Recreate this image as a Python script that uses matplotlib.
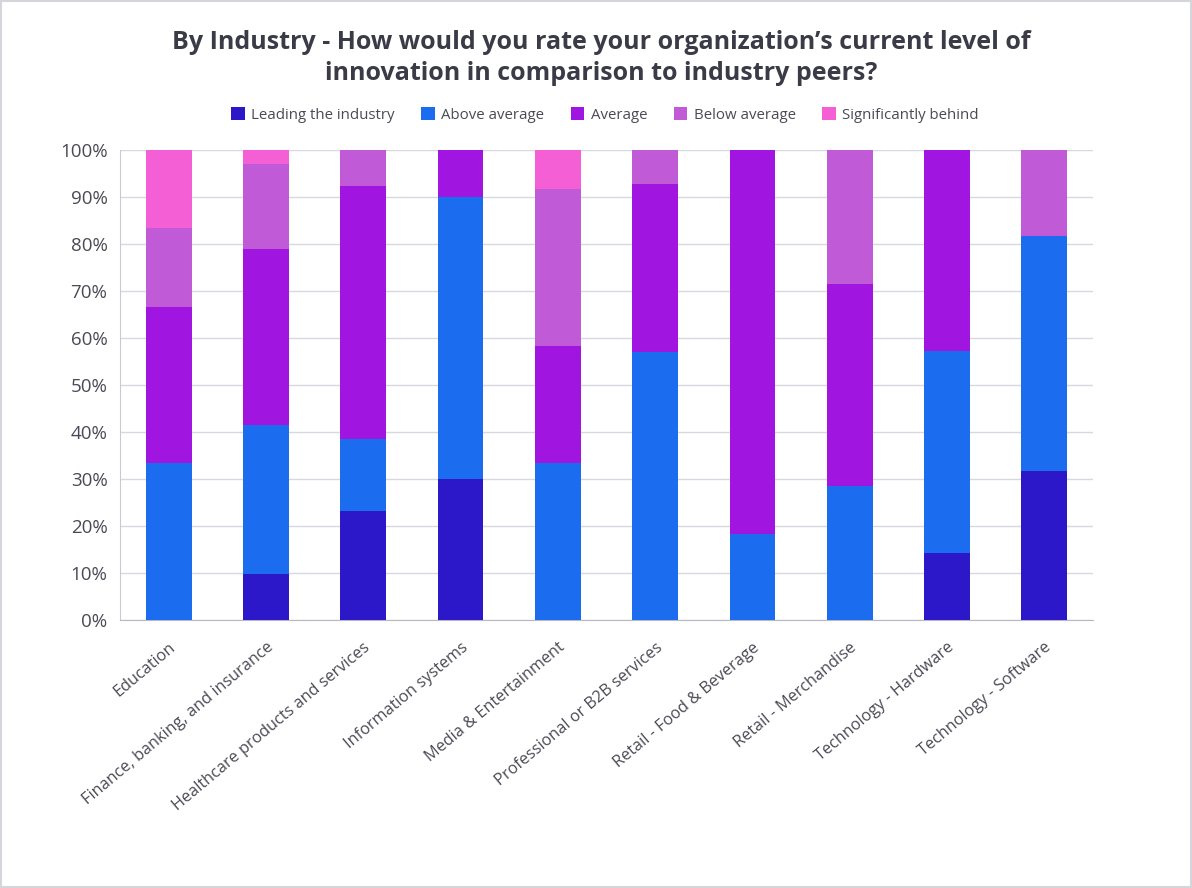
import numpy as np
import matplotlib.pyplot as plt
from matplotlib.patches import Rectangle
from matplotlib.ticker import FuncFormatter

plt.rcParams['font.family'] = ['Open Sans', 'DejaVu Sans']

industries = [
    "Education", "Finance, banking, and insurance", "Healthcare products and services",
    "Information systems", "Media & Entertainment", "Professional or B2B services",
    "Retail - Food & Beverage", "Retail - Merchandise", "Technology - Hardware",
    "Technology - Software",
]
series = ["Leading the industry", "Above average", "Average", "Below average", "Significantly behind"]

leading = [0, 9.7, 23.1, 30, 0, 0, 0, 0, 14.3, 31.8]
above = [33.3, 31.8, 15.4, 60, 33.3, 57.1, 18.2, 28.6, 42.9, 50.0]
average = [33.3, 37.4, 53.8, 10, 25.0, 35.7, 81.8, 42.9, 42.8, 0]
below = [16.7, 18.1, 7.7, 0, 33.3, 7.2, 0, 28.5, 0, 18.2]
behind = [16.7, 3.0, 0, 0, 8.4, 0, 0, 0, 0, 0]

colors = ["#2d18c9", "#1b6cef", "#a016e0", "#c05ad6", "#f55fd6"]

fig = plt.figure(figsize=(11.92, 8.88), dpi=100)
ax = fig.add_axes([120 / 1192, 1 - 620 / 888, (1093 - 120) / 1192, 470 / 888])

x = np.arange(len(industries))
bottom = np.zeros(len(industries))
for name, vals, c in zip(series, [leading, above, average, below, behind], colors):
    vals = np.array(vals)
    ax.bar(x, vals, 0.47, bottom=bottom, color=c, label=name, zorder=3)
    bottom += vals

ax.set_xlim(-0.5, len(industries) - 0.5)
ax.set_ylim(0, 100)
ax.set_yticks(np.arange(0, 101, 10))
ax.yaxis.set_major_formatter(FuncFormatter(lambda v, p: f"{v:.0f}%"))
ax.grid(axis="y", color="#d8d8e2", linewidth=1, zorder=0)
for s in ["top", "right"]:
    ax.spines[s].set_visible(False)
ax.spines["left"].set_color("#c9c9d4")
ax.spines["bottom"].set_color("#b8b8c4")
ax.tick_params(axis="y", length=0, labelsize=13.5, labelcolor="#4a4a55", pad=9)
ax.tick_params(axis="x", length=0, labelsize=11.7, labelcolor="#4a4a55", pad=14)
ax.set_xticks(x)
ax.set_xticklabels(industries, rotation=40, ha="right", rotation_mode="anchor")

fig.text(0.504, 1 - 58 / 888, "By Industry - How would you rate your organization\u2019s current level of\ninnovation in comparison to industry peers?",
         ha="center", va="center", fontsize=18, fontweight="bold", color="#3b3b47", linespacing=1.28)

fig.legend(loc="center", bbox_to_anchor=(0.5076, 1 - 115 / 888), ncol=5, frameon=False,
           fontsize=10.8, handlelength=0.9, handleheight=0.9, columnspacing=1.75, handletextpad=0.45,
           labelcolor="#4a4a55")

fig.patches.append(Rectangle((0.001, 0.001), 0.998, 0.998, transform=fig.transFigure,
                             fill=False, edgecolor="#d5d5dc", linewidth=1.5))

plt.savefig("out.png", dpi=100)
plt.close()
